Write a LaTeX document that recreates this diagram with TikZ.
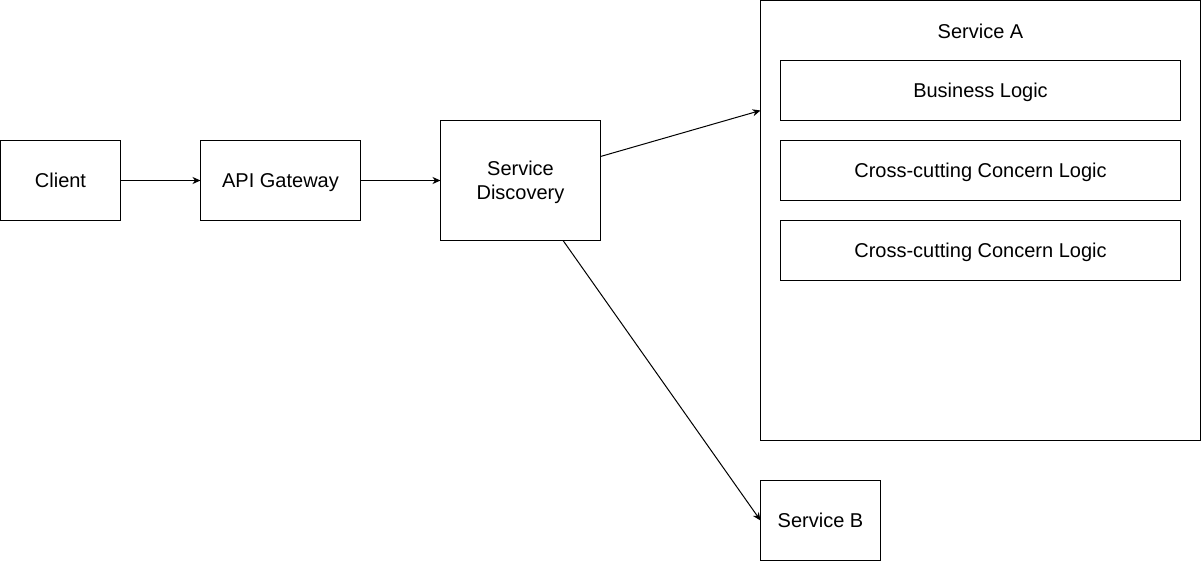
\documentclass[tikz,border=0pt]{standalone}
\usepackage{fontspec}
\setmainfont{Liberation Sans}
\usetikzlibrary{arrows.meta,calc}
\begin{document}
\begin{tikzpicture}[x=1pt,y=-1pt,
  box/.style={draw=black,line width=1pt,fill=white,inner sep=0pt,outer sep=0pt,
    align=center,text depth=0pt,font=\fontsize{20}{24}\selectfont},
  link/.style={draw=black,line width=1pt,
    -{Stealth[length=8pt,width=7pt,inset=2.5pt]}}]
\useasboundingbox (0,0) rectangle (1201,561);
% outer container for Service A and its layers
\node[box,minimum width=440pt,minimum height=440pt] (sa) at (980.5,220.5) {};
\node[font=\fontsize{20}{24}\selectfont,text depth=0pt] (satitle) at (980.5,31.5) {Service A};
\node[box,minimum width=400pt,minimum height=60pt] (bl) at (980.5,90.5) {Business Logic};
\node[box,minimum width=400pt,minimum height=60pt] (cc1) at (980.5,170.5) {Cross-cutting Concern Logic};
\node[box,minimum width=400pt,minimum height=60pt] (cc2) at (980.5,250.5) {Cross-cutting Concern Logic};
% request path
\node[box,minimum width=120pt,minimum height=80pt] (client) at (60.5,180.5) {Client};
\node[box,minimum width=160pt,minimum height=80pt] (gw) at (280.5,180.5) {API Gateway};
\node[box,minimum width=160pt,minimum height=120pt] (sd) at (520.5,180.5) {Service\\Discovery};
\node[box,minimum width=120pt,minimum height=80pt] (sb) at (820.5,520.5) {Service B};
% connectors
\draw[link] (client.east) -- (gw.west);
\draw[link] (gw.east) -- (sd.west);
\draw[link] ($(sd.north east)!0.3!(sd.south east)$) -- ($(sa.north west)!0.25!(sa.south west)$);
\draw[link] ($(sd.south west)!0.766!(sd.south east)$) -- (sb.west);
\end{tikzpicture}
\end{document}
